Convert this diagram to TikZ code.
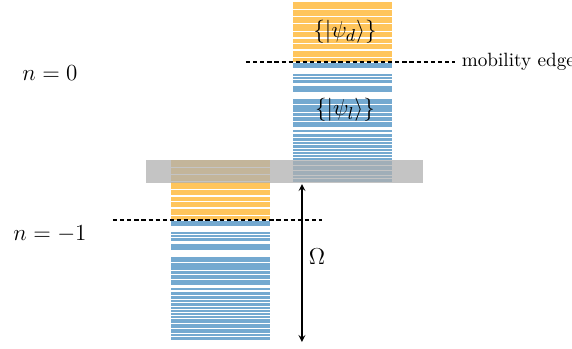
\documentclass[tikz,border=0pt]{standalone}
\usepackage{amsmath}
\usetikzlibrary{positioning, calc}

\definecolor{extorange}{RGB}{255,197,92}
\definecolor{locblue}{RGB}{116,169,208}
\definecolor{bandgray}{RGB}{176,176,176}

\tikzset{
  edge line/.style={black, line width=0.9pt, dash pattern=on 2.2pt off 1.5pt},
  gap arrow/.style={stealth-stealth, semithick},
  lbl/.style={font=\fontsize{13.2}{16}\selectfont},
}

% energy levels of one Floquet copy (top/bottom in px from top)
\newcommand{\orangelevels}{2/8.5,9.5/15.9,16.9/22.7,24/30.7,31.7/37.3,38.5/42.9,44/49.3,50.5/56.7,57.7/62}
\newcommand{\bluelevels}{63/68,73.5/75.6,76.6/78.6,79.6/82.5,86/91.5,99/103.6,104.6/111.6,112.6/115.6,116.6/120.6,121.6/127,130/131.5,133.5/136.5,138/140.6,141.6/143.6,144.6/147.6,148.6/150.6,151.6/153.6,154.6/157,158/160.2,161.2/164.6,165.6/169.6,170.6/174.6,175.6/177.6,178.6/182}

\newcommand{\floquetcopy}[2]{% #1 = left edge, #2 = vertical shift
  \foreach \a/\b in \orangelevels
    \fill[extorange] (#1,\a+#2) rectangle (#1+99,\b+#2);
  \foreach \a/\b in \bluelevels
    \fill[locblue] (#1,\a+#2) rectangle (#1+99,\b+#2);
}

\begin{document}
\begin{tikzpicture}[x=0.0183cm, y=-0.0183cm]
  \useasboundingbox (0,0) rectangle (572,349);

  % copies n=0 and n=-1
  \floquetcopy{293}{0}
  \floquetcopy{171}{158}

  % overlap window
  \fill[bandgray, opacity=0.75] (146,160) rectangle (423,183);

  \node[lbl] (n0) at (50,73) {$n=0$};
  \node[lbl] (n1) at (50,234) {$n=-1$};
  \node[lbl] (psid) at (345,32) {$\{|\psi_d\rangle\}$};
  \node[lbl] (psil) at (345,110) {$\{|\psi_l\rangle\}$};

  % mobility edges
  \coordinate (me0a) at (246,62);
  \coordinate (me0b) at (455,62);
  \coordinate (me1a) at (113,220);
  \coordinate (me1b) at (322,220);
  \draw[edge line] (me0a) -- (me0b);
  \draw[edge line] (me1a) -- (me1b);
  \node[right=0pt of me0b] (mob) {mobility edge};

  % drive frequency
  \coordinate (wtop) at (302,184);
  \coordinate (wbot) at (302,342);
  \draw[gap arrow] (wtop) -- node[right, pos=0.46, lbl] (om) {$\Omega$} (wbot);
\end{tikzpicture}
\end{document}
